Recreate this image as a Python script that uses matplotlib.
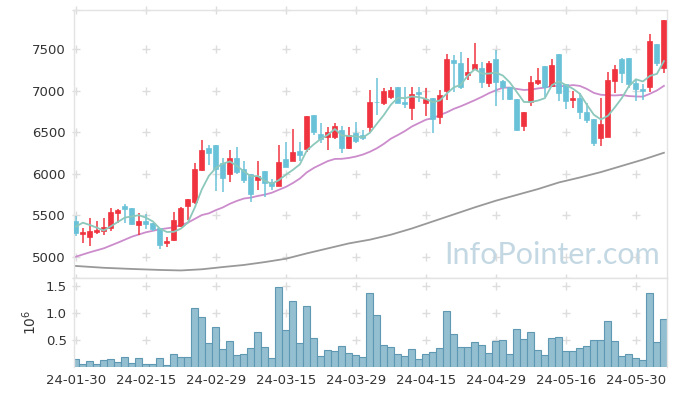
import numpy as np
import pandas as pd
import matplotlib
matplotlib.use('Agg')
import matplotlib.pyplot as plt

# daily candles (trading days from 24-01-30)
opens = [5430, 5277, 5241, 5298, 5313, 5349, 5530, 5615, 5587, 5382,
         5430, 5410, 5346, 5169, 5201, 5374, 5615, 5663, 6041, 6310,
         6350, 6125, 5995, 6189, 6060, 5997, 5924, 6033, 5904, 5856,
         6174, 6157, 6274, 6298, 6708, 6479, 6438, 6446, 6527, 6314,
         6487, 6465, 6567, 6866, 6852, 6924, 7045, 6860, 6795, 6985,
         6852, 6916, 6683, 6997, 7370, 7338, 7185, 7262, 7278, 7089,
         7382, 7113, 7049, 6900, 6575, 6860, 7097, 7298, 7061, 7443,
         7077, 6892, 6916, 6744, 6660, 6427, 6446, 7121, 7378, 7390,
         7097, 7017, 7049, 7563, 7270]
highs = [5490, 5349, 5463, 5434, 5463, 5583, 5578, 5635, 5587, 5523,
         5515, 5410, 5346, 5234, 5539, 5603, 5692, 6125, 6406, 6342,
         6350, 6186, 6286, 6318, 6157, 5997, 6157, 6033, 5933, 6342,
         6378, 6535, 6386, 6696, 6708, 6615, 6559, 6607, 6575, 6559,
         6623, 6527, 7010, 7150, 7029, 7049, 7045, 7049, 7049, 7049,
         7037, 6916, 7009, 7443, 7430, 7470, 7390, 7580, 7342, 7362,
         7490, 7130, 7049, 6900, 6744, 7177, 7270, 7298, 7378, 7443,
         7077, 7000, 6969, 6848, 6660, 6908, 7226, 7306, 7390, 7390,
         7130, 7081, 7684, 7563, 7852]
lows = [5253, 5161, 5129, 5274, 5258, 5306, 5402, 5406, 5378, 5258,
        5330, 5306, 5096, 5113, 5185, 5354, 5442, 5635, 6029, 6105,
        5790, 5783, 5904, 5993, 5892, 5663, 5804, 5716, 5804, 5856,
        6085, 6157, 6153, 6262, 6466, 6366, 6286, 6422, 6246, 6302,
        6366, 6406, 6506, 6708, 6828, 6900, 6852, 6795, 6647, 6868,
        6695, 6487, 6595, 6887, 6988, 7017, 7130, 7250, 7029, 7041,
        6816, 6888, 6888, 6515, 6515, 6816, 7069, 6928, 7049, 6876,
        6780, 6788, 6655, 6615, 6338, 6334, 6446, 6976, 7089, 7029,
        6880, 6888, 6988, 7302, 7210]
closes = [5282, 5301, 5313, 5325, 5354, 5539, 5563, 5575, 5394, 5430,
          5394, 5330, 5141, 5193, 5442, 5583, 5692, 6057, 6286, 6253,
          6060, 5952, 6189, 6020, 5924, 5759, 5972, 5892, 5852, 6141,
          6085, 6262, 6226, 6696, 6506, 6414, 6506, 6575, 6314, 6466,
          6394, 6434, 6860, 6860, 6997, 7009, 6852, 6840, 6957, 6961,
          6900, 6655, 6949, 7378, 7330, 7049, 7225, 7322, 7105, 7338,
          7109, 7043, 6904, 6527, 6744, 7105, 7130, 7049, 7310, 6976,
          6880, 6912, 6740, 6647, 6374, 6599, 7130, 7258, 7210, 7081,
          7017, 6997, 7595, 7330, 7852]
volumes = [148000, 55000, 110000, 55000, 130000, 160000, 90000, 197000, 74000, 178000,
           55000, 55000, 178000, 37000, 240000, 185000, 185000, 1090000, 920000, 440000,
           740000, 330000, 480000, 220000, 240000, 350000, 650000, 370000, 166000, 1490000,
           680000, 1220000, 440000, 1140000, 535000, 200000, 320000, 300000, 390000, 260000,
           230000, 190000, 1380000, 960000, 420000, 370000, 240000, 210000, 330000, 150000,
           240000, 280000, 350000, 1030000, 610000, 370000, 370000, 460000, 410000, 260000,
           480000, 500000, 240000, 700000, 520000, 660000, 310000, 220000, 540000, 550000,
           300000, 300000, 350000, 390000, 500000, 500000, 850000, 480000, 200000, 240000,
           180000, 130000, 1370000, 460000, 900000]

tick_labels = ['24-01-30', '24-02-15', '24-02-29', '24-03-15', '24-03-29',
               '24-04-15', '24-04-29', '24-05-16', '24-05-30']

# moving averages before enough history is on the chart
ma5_head = [5362, 5410, 5382, 5350]
ma20_head_idx = [0, 2, 4, 6, 8, 10, 12, 14, 16, 18]
ma20_head = [5000, 5053, 5101, 5169, 5241, 5294, 5330, 5354, 5410, 5502]
ma120_idx = [0, 4, 8, 12, 15, 18, 21, 24, 27, 30, 33, 36, 39, 42, 45, 48,
             51, 54, 57, 60, 63, 66, 69, 72, 75, 78, 81, 84]
ma120 = [4888, 4866, 4852, 4840, 4834, 4848, 4875, 4900, 4935, 4975, 5040, 5100,
         5160, 5205, 5265, 5340, 5425, 5510, 5595, 5675, 5745, 5815, 5895, 5955,
         6020, 6095, 6170, 6253]

df = pd.DataFrame({'open': opens, 'high': highs, 'low': lows,
                   'close': closes, 'volume': volumes})
x = np.arange(len(df))
ma5 = df['close'].rolling(5).mean()
ma20 = df['close'].rolling(20).mean()
ma5_x = np.arange(len(ma5_head)).tolist() + x[4:].tolist()
ma5_y = ma5_head + ma5[4:].tolist()
ma20_x = ma20_head_idx + x[19:].tolist()
ma20_y = ma20_head + ma20[19:].tolist()

up_c, down_c = '#ef3440', '#6ac2d8'
colors = [up_c if c >= o else down_c for o, c in zip(df['open'], df['close'])]
grid_c = '#dddddd'
spine_c = '#e3e3e3'

fig = plt.figure(figsize=(6.77, 3.96), dpi=100)
ax = fig.add_axes([0.1089, 0.298, 0.8759, 0.6767])
ax2 = fig.add_axes([0.1089, 0.0725, 0.8759, 0.2255], sharex=ax)

xlim = (-0.3, 84.4)
ylim = (4743, 7974)
xt = np.arange(0, 85, 10)
yt = [5000, 5500, 6000, 6500, 7000, 7500]

# grid crosses
gx, gy = np.meshgrid(xt, yt + [ylim[0], ylim[1]])
ax.scatter(gx.ravel(), gy.ravel(), marker='+', s=30, color=grid_c, lw=1, zorder=0, clip_on=False)

ax.plot(ma120_idx, ma120, color='#999999', lw=1.3, zorder=1)
ax.plot(ma20_x, ma20_y, color='#cc8ccc', lw=1.3, zorder=1)

bottoms = np.minimum(df['open'], df['close'])
heights = (df['open'] - df['close']).abs()
ax.vlines(x, df['low'], df['high'], color=colors, lw=1.1, zorder=2)
ax.bar(x, heights, bottom=bottoms, width=0.7, color=colors, edgecolor=colors, lw=0.5, zorder=3)
ax.plot(ma5_x, ma5_y, color='#8cc8bb', lw=1.3, zorder=4)

ax.set_xlim(*xlim)
ax.set_ylim(*ylim)
ax.set_yticks(yt)
ax.tick_params(length=0, labelsize=9.5, labelcolor='#333333', pad=6, labelbottom=False)

ax.text(0.806, 0.085, 'InfoPointer.com', transform=ax.transAxes, ha='center', va='center',
        fontsize=22, family='Lato', color='#c3d8e3', zorder=5)

# volume
vt = [0.5, 1.0, 1.5]
vlim = (0, 1.648)
gx2, gy2 = np.meshgrid(xt, vt)
ax2.scatter(gx2.ravel(), gy2.ravel(), marker='+', s=30, color=grid_c, lw=1, zorder=0, clip_on=False)
ax2.bar(x, df['volume'] / 1e6, width=1.0, color='#93bfd0', edgecolor='#5f98b2', lw=0.8, zorder=2)
ax2.set_ylim(*vlim)
ax2.set_yticks(vt)
ax2.set_xticks(xt)
ax2.set_xticklabels(tick_labels)
ax2.set_ylabel(r'$10^6$', fontsize=10, color='#333333', labelpad=5)
ax2.tick_params(length=0, labelsize=9.5, labelcolor='#333333', pad=5)

for a in (ax, ax2):
    for s in a.spines.values():
        s.set_color(spine_c)
        s.set_linewidth(1)
ax2.spines['bottom'].set_visible(False)

fig.savefig('out.png', dpi=100)
